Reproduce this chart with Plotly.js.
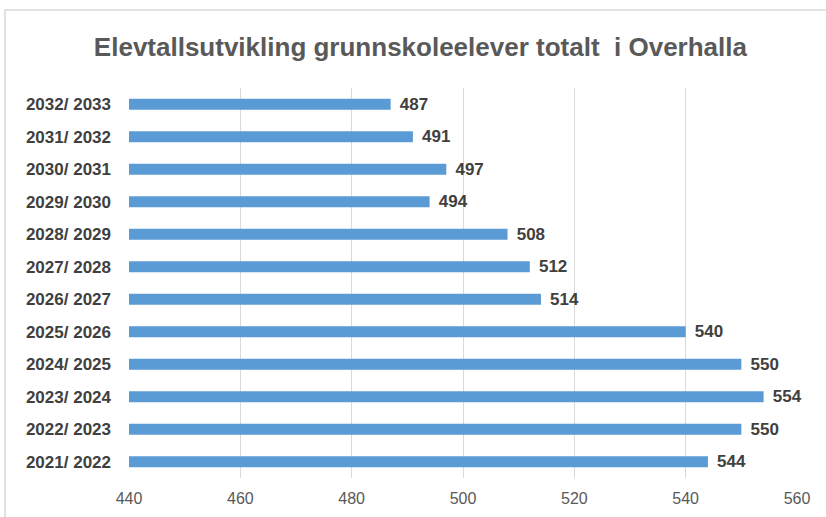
<!DOCTYPE html>
<html><head><meta charset="utf-8">
<script src="https://cdn.plot.ly/plotly-3.0.1.min.js"></script>
<style>html,body{margin:0;padding:0;background:#fff}#c{width:826px;height:517px}</style>
</head><body><div id="c"></div>
<script>
const categories = ["2021/ 2022","2022/ 2023","2023/ 2024","2024/ 2025","2025/ 2026","2026/ 2027","2027/ 2028","2028/ 2029","2029/ 2030","2030/ 2031","2031/ 2032","2032/ 2033"];
const values = [544,550,554,550,540,514,512,508,494,497,491,487];
const xTicks = [440,460,480,500,520,540,560];
const axisMin = 440;

const FONT = 'Liberation Sans, Arial, sans-serif';
const trace = {
  type:'bar', orientation:'h', y:categories,
  x: values.map(v=>v-axisMin), base: axisMin,
  marker:{color:'#5b9bd5'}, width:0.34,
  text: values.map(v=>' \u200A'+v), textposition:'outside', cliponaxis:false, constraintext:'none',
  textfont:{family:FONT, size:17, color:'#404040', weight:'bold'},
  hoverinfo:'none'
};
const layout = {
  width:826, height:517,
  margin:{l:129, r:29, t:88, b:39},
  paper_bgcolor:'#fff', plot_bgcolor:'#fff',
  showlegend:false,
  title:{text:'Elevtallsutvikling grunnskoleelever totalt  i Overhalla', x:0.509, xanchor:'center', y:0.91, yanchor:'middle',
    font:{family:FONT, size:26, color:'#595959', weight:'bold'}},
  xaxis:{range:[440,560], tickvals:xTicks, ticktext:xTicks.map(String), showgrid:true, gridcolor:'#d9d9d9', gridwidth:1,
    zeroline:false, showline:false, ticks:'', ticklabelstandoff:9,
    tickfont:{family:FONT, size:16, color:'#595959'}},
  yaxis:{type:'category', categoryarray:categories, showgrid:false, zeroline:false, showline:false, ticks:'', ticklabelstandoff:17,
    tickfont:{family:FONT, size:17, color:'#404040', weight:'bold'}},
  shapes:[{type:'rect', xref:'paper', yref:'paper', x0:-0.1856, x1:1.05, y0:-0.2, y1:1.2, line:{color:'#d9d9d9', width:1.5}, fillcolor:'rgba(0,0,0,0)'}]
};
Plotly.newPlot('c',[trace],layout,{staticPlot:true});
</script></body></html>
